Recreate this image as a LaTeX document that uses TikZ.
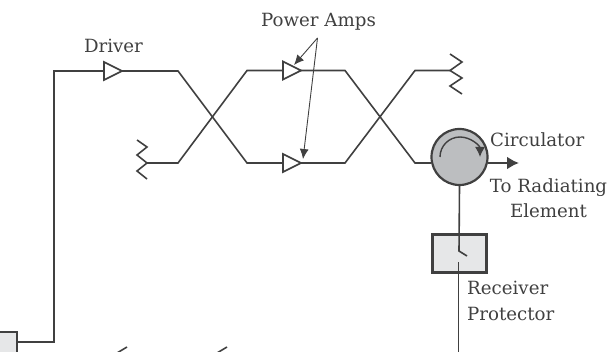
\documentclass[tikz,border=0pt]{standalone}
\usepackage{fontspec}
\setmainfont{DejaVu Serif}
\usetikzlibrary{shapes.geometric,arrows.meta}
\definecolor{ink}{HTML}{404040}
\definecolor{boxfill}{HTML}{E6E7E8}
\definecolor{circfill}{HTML}{BCBEC0}
\tikzset{
  wire/.style={draw=ink,line width=1.6pt,line join=miter},
  amp/.style={shape=isosceles triangle,isosceles triangle stretches=true,draw=ink,line width=1.6pt,fill=white,minimum width=18pt,minimum height=18pt,inner sep=0pt,outer sep=0pt,anchor=lower side},
  lab/.style={text=ink,font=\fontsize{18.2pt}{25.5pt}\selectfont,inner sep=0pt,align=center},
  pointer/.style={draw=ink,line width=0.9pt,-{Latex[length=10pt,width=9pt]}},
  boxed/.style={draw=ink,line width=2.2pt,fill=boxfill},
}
\begin{document}
\begin{tikzpicture}[x=1pt,y=-1pt]
\useasboundingbox (0,0) rectangle (609,352);
\clip (0,0) rectangle (609,352);
% coordinates
\coordinate (cornerA) at (54,71);
\coordinate (x1a) at (178,71);
\coordinate (x1b) at (247,163);
\coordinate (x1c) at (178,163);
\coordinate (x1d) at (247,70.5);
\coordinate (x2a) at (345,70.5);
\coordinate (x2b) at (415,163);
\coordinate (x2c) at (345,163);
\coordinate (x2d) at (415,70.5);
\coordinate (termL) at (147,163);
\coordinate (termR) at (450,70.5);
\coordinate (cornerB) at (54,342);
\coordinate (entry) at (431,163);
\coordinate (out) at (488,163);
\coordinate (outEnd) at (519,163);
\coordinate (swTop) at (459,251);
\coordinate (swEnd) at (467,256);
\coordinate (swLow) at (458.5,262);
\coordinate (bottomEnd) at (458.5,352);
\coordinate (paTip) at (317.5,38);
\coordinate (paHitA) at (294,65);
\coordinate (paHitB) at (303,159);
% bottom-left box
\node[boxed,minimum width=30pt,minimum height=30pt,inner sep=0pt,anchor=north east] (src) at (18,330.5) {};
% wires
\draw[wire] (src.east |- cornerB) -- (cornerB) -- (cornerA) -- (x1a) -- (x1b) -- (x2c) -- (x2d) -- (termR);
\draw[wire] (termL) -- (x1c) -- (x1d) -- (x2a) -- (x2b) -- (entry);
% amps
\node[amp] (driver) at (104,71) {};
\node[amp] (pa1) at (283,70.5) {};
\node[amp] (pa2) at (283,163) {};
% terminations
\draw[wire] (137,140) -- (147,147) -- (137,155) -- (termL) -- (137,171) -- (147,179);
\draw[wire] (450,54) -- (462,62) -- (termR) -- (462,78) -- (450,86) -- (462,94);
\draw[wire] (127,347) -- (117,353) -- (127,360);
\draw[wire] (227,347) -- (217,353) -- (227,360);
% circulator
\node[circle,draw=ink,line width=2.2pt,fill=circfill,minimum size=56pt,inner sep=0pt] (circ) at (459.5,157) {};
\draw[ink,line width=1.4pt,-{Latex[length=10pt,width=10pt]}] (440,157) arc[start angle=180,end angle=0,radius=20pt];
\draw[draw=ink,line width=2.2pt,-{Latex[length=12pt,width=13pt]}] (out) -- (outEnd);
% receiver protector
\node[boxed,minimum width=54pt,minimum height=38pt,inner sep=0pt] (rp) at (459.5,253.5) {};
\draw[wire] (circ.south) -- (swTop) -- (swEnd);
\draw[wire] (swLow) -- (bottomEnd);
% power-amp pointers
\draw[pointer] (paTip) -- (paHitA);
\draw[pointer] (paTip) -- (paHitB);
% labels
\node[lab] (l1) at (318.5,22) {Power Amps};
\node[lab] (l2) at (113.5,46) {Driver};
\node[lab,anchor=west] (l3) at (490,140) {Circulator};
\node[lab] (l4) at (548.5,198) {To Radiating\\Element};
\node[lab,anchor=west,align=left] (l5) at (467,301) {Receiver\\Protector};
\end{tikzpicture}
\end{document}
